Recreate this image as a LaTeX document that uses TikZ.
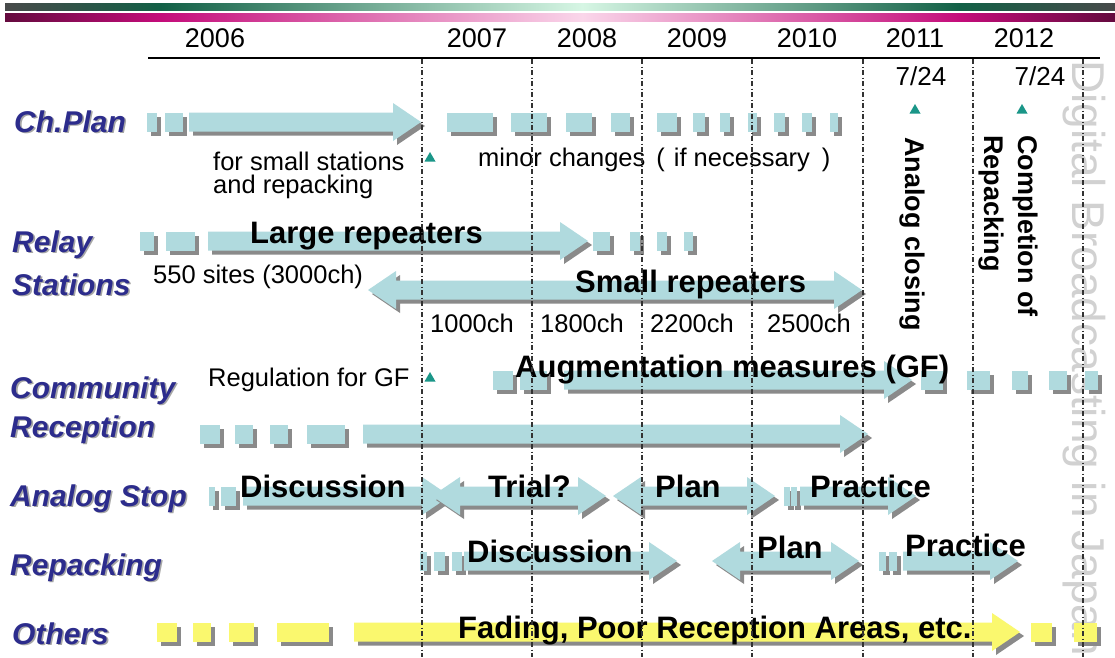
\documentclass[tikz,border=0pt]{standalone}
\usepackage{fontspec}
\setmainfont{Liberation Sans}
\definecolor{barblue}{RGB}{176,218,222}
\definecolor{barshadow}{RGB}{138,138,138}
\definecolor{baryellow}{RGB}{250,248,110}
\definecolor{rowblue}{RGB}{44,44,140}
\definecolor{marker}{RGB}{26,150,136}
\definecolor{gA}{RGB}{72,74,74}
\definecolor{gB}{RGB}{18,96,70}
\definecolor{gC}{RGB}{214,246,228}
\definecolor{mA}{RGB}{100,10,62}
\definecolor{mB}{RGB}{196,12,122}
\definecolor{mC}{RGB}{250,214,234}
% header bands: dark ends, light centre
\pgfdeclarehorizontalshading{greenband}{100bp}{color(0bp)=(gA); color(25bp)=(gA); color(32bp)=(gB); color(51bp)=(gC); color(68bp)=(gB); color(75bp)=(gA); color(100bp)=(gA)}
\pgfdeclarehorizontalshading{magentaband}{100bp}{color(0bp)=(mA); color(25bp)=(mA); color(32bp)=(mB); color(51bp)=(mC); color(68bp)=(mB); color(75bp)=(mA); color(100bp)=(mA)}

% a block with its drop shadow: [colour]{x1}{x2}{y}
\newcommand\seg[4][barblue]{%
  \foreach \dd/\fc in {4/barshadow,0/#1}
    \fill[\fc,shift={(\dd,\dd)}] (#2,#4-9.5) rectangle (#3,#4+9.5);}
% a right-pointing block arrow with shadow
\newcommand\rarrow[4][barblue]{%
  \foreach \dd/\fc in {4/barshadow,0/#1}
    \fill[\fc,shift={(\dd,\dd)}] (#2,#4-9.5) -- (#3-28,#4-9.5) -- (#3-28,#4-19) -- (#3,#4)
      -- (#3-28,#4+19) -- (#3-28,#4+9.5) -- (#2,#4+9.5) -- cycle;}
% a double-headed block arrow with shadow
\newcommand\darrow[4][barblue]{%
  \foreach \dd/\fc in {4/barshadow,0/#1}
    \fill[\fc,shift={(\dd,\dd)}] (#2,#4) -- (#2+28,#4-19) -- (#2+28,#4-9.5) -- (#3-28,#4-9.5)
      -- (#3-28,#4-19) -- (#3,#4) -- (#3-28,#4+19) -- (#3-28,#4+9.5) -- (#2+28,#4+9.5)
      -- (#2+28,#4+19) -- cycle;}
% small milestone triangle
\newcommand\milestone[2]{\fill[marker] (#1-5.5,#2+4.5) -- (#1+5.5,#2+4.5) -- (#1,#2-5) -- cycle;}
% row heading with a soft shadow
\newcommand\rowname[4]{%
  \node[rowshadow] (#1-sh) at (#2+1.6,#3+1.6) {#4};
  \node[rowlabel] (#1) at (#2,#3) {#4};}

\begin{document}
\begin{tikzpicture}[x=1pt,y=-1pt,
  rowlabel/.style={font=\fontsize{30}{32}\selectfont\bfseries\itshape, text=rowblue, anchor=base west, inner sep=0pt},
  rowshadow/.style={rowlabel, text=black!35},
  barlabel/.style={font=\fontsize{31}{34}\selectfont\bfseries, anchor=base west, inner sep=0pt},
  note/.style={font=\fontsize{25.5}{28}\selectfont, anchor=base west, inner sep=0pt},
  year/.style={font=\fontsize{27}{30}\selectfont, anchor=base, inner sep=0pt},
  date/.style={font=\fontsize{26}{28}\selectfont, anchor=base, inner sep=0pt},
  vlabel/.style={font=\fontsize{27}{30}\selectfont\bfseries, rotate=-90, anchor=base west, inner sep=0pt},
  gridline/.style={black!80, line width=1.1pt, dash pattern=on 5pt off 2.5pt on 1pt off 2.5pt},
]
\useasboundingbox (0,0) rectangle (1115,657);
\fill[white] (0,0) rectangle (1115,657);

% faint title running down the right edge
\node[font=\fontsize{46}{46}\selectfont, text=black!18, rotate=-90, anchor=base west, inner sep=0pt]
  (title) at (1072,60) {Digital Broadcasting in Japan};

% header bands
\shade[shading=greenband] (5,3) rectangle (1115,10);
\shade[shading=magentaband] (5,13) rectangle (1115,21);

% years and time axis
\node[year] (y2006) at (215,47) {2006};
\node[year] (y2007) at (477,47) {2007};
\node[year] (y2008) at (587,47) {2008};
\node[year] (y2009) at (697,47) {2009};
\node[year] (y2010) at (807,47) {2010};
\node[year] (y2011) at (915,47) {2011};
\node[year] (y2012) at (1024,47) {2012};
\draw[line width=2pt] (148,57.5) -- (1100,57.5);

\node[date] (d2011) at (921,85) {7/24};
\node[date] (d2012) at (1040,85) {7/24};
\milestone{915}{109}
\milestone{1022}{109}
\node[vlabel] (closing) at (905,137) {Analog closing};
\node[vlabel] (completion) at (1018,135) {Completion of};
\node[vlabel] (completion2) at (984,135) {Repacking};

% row headings
\rowname{chplan}{14}{132}{Ch.Plan}
\rowname{relay}{12}{252}{Relay}
\rowname{stations}{12}{295}{Stations}
\rowname{community}{10}{398}{Community}
\rowname{reception}{10}{437}{Reception}
\rowname{analogstop}{10}{506}{Analog Stop}
\rowname{repacking}{10}{575}{Repacking}
\rowname{others}{12}{644}{Others}

% Ch.Plan
\seg{147}{157}{122}
\seg{165}{183}{122}
\rarrow{189}{421}{122}
\foreach \a/\b in {447/493,511/547,566/592,611/630,657/677,693/705,720/730,748/757,774/785,802/812,830/838}
  {\seg{\a}{\b}{122}}
\node[note] (small) at (213,170) {for small stations};
\node[note] (repack) at (213,193) {and repacking};
\milestone{430}{157}
\node[note] (minor) at (478,166) {minor changes\hspace{11pt}(\hspace{9pt}if necessary\hspace{12pt})};

% Relay stations
\seg{140}{154}{241}
\seg{166}{195}{241}
\rarrow{208}{588}{241}
\foreach \a/\b in {593/610,630/640,657/667,684/693}
  {\seg{\a}{\b}{241}}
\darrow{368}{862}{290}
\node[barlabel] (large) at (250,243) {Large repeaters};
\node[barlabel] (smallrep) at (575,292) {Small repeaters};
\node[note] (sites) at (153,283) {550 sites (3000ch)};
\node[note] (c1000) at (430,332) {1000ch};
\node[note] (c1800) at (540,332) {1800ch};
\node[note] (c2200) at (650,332) {2200ch};
\node[note] (c2500) at (767,332) {2500ch};

% Community reception
\seg{493}{513}{380}
\seg{520}{547}{380}
\rarrow{564}{912}{380}
\foreach \a/\b in {921/943,967/990,1012/1028,1049/1067,1085/1098}
  {\seg{\a}{\b}{380}}
\foreach \a/\b in {200/220,235/253,270/288,307/345}
  {\seg{\a}{\b}{434}}
\rarrow{363}{868}{434}
\node[note] (gfreg) at (208,386) {Regulation for GF};
\milestone{430}{377}
\node[barlabel] (augment) at (515,377) {Augmentation measures (GF)};

% Analog stop
\seg{209}{215}{496}
\seg{221}{236}{496}
\rarrow{243}{450}{496}
\darrow{432}{606}{496}
\darrow{613}{775}{496}
\seg{784}{790}{496}
\seg{791}{797}{496}
\rarrow{800}{916}{496}
\node[barlabel] (as1) at (240,497) {Discussion};
\node[barlabel] (as2) at (488,497) {Trial?};
\node[barlabel] (as3) at (655,497) {Plan};
\node[barlabel] (as4) at (810,497) {Practice};

% Repacking
\seg{420}{427}{561}
\seg{434}{445}{561}
\seg{452}{462}{561}
\rarrow{464}{677}{561}
\darrow{712}{859}{561}
\seg{879}{886}{561}
\seg{889}{897}{561}
\rarrow{903}{1018}{561}
\node[barlabel] (rp1) at (467,562) {Discussion};
\node[barlabel] (rp2) at (757,558) {Plan};
\node[barlabel] (rp3) at (905,556) {Practice};

% Others
\foreach \a/\b in {157/177,193/211,229/254,277/329}
  {\seg[baryellow]{\a}{\b}{632}}
\rarrow[baryellow]{354}{1020}{632}
\seg[baryellow]{1031}{1052}{632}
\seg[baryellow]{1074}{1097}{632}
\node[barlabel] (fading) at (458,638) {Fading, Poor Reception Areas, etc.};

% year boundaries
\foreach \x in {422,532,642,752,863,973,1083}
  \draw[gridline] (\x,59) -- (\x,657);
\end{tikzpicture}
\end{document}
